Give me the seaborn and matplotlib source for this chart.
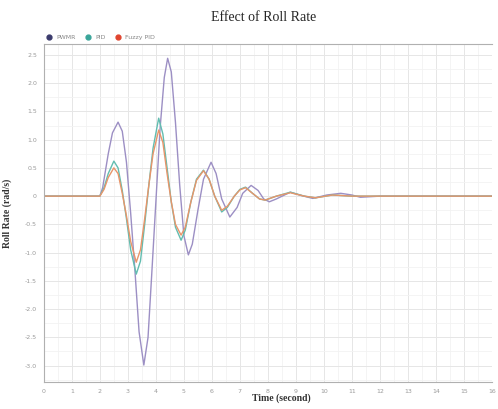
import numpy as np
import pandas as pd
import matplotlib
matplotlib.use("Agg")
import matplotlib.pyplot as plt
from matplotlib.ticker import MultipleLocator, FuncFormatter
from matplotlib.lines import Line2D
import seaborn as sns

# --- data ---
series_names = ["PWMR", "PID", "Fuzzy PID"]

t_pwmr = [0, 2.0, 2.1, 2.3, 2.45, 2.65, 2.8, 2.95, 3.1, 3.25, 3.4, 3.57, 3.72,
          3.85, 4.0, 4.15, 4.3, 4.42, 4.55, 4.7, 4.85, 5.0, 5.16, 5.3, 5.5, 5.7,
          5.97, 6.15, 6.35, 6.64, 6.9, 7.1, 7.4, 7.65, 7.85, 8.05, 8.3, 8.8, 9.2,
          9.6, 10.1, 10.6, 11.0, 11.3, 12.0, 16.0]
v_pwmr = [0, 0, 0.15, 0.75, 1.12, 1.31, 1.15, 0.6, -0.3, -1.3, -2.4, -2.99, -2.5,
          -1.4, -0.1, 1.2, 2.1, 2.44, 2.2, 1.3, 0.2, -0.7, -1.04, -0.85, -0.25, 0.3,
          0.6, 0.4, -0.05, -0.37, -0.2, 0.05, 0.19, 0.1, -0.05, -0.1, -0.05, 0.07, 0.01,
          -0.04, 0.02, 0.05, 0.02, -0.02, 0.0, 0.0]

t_pid = [0, 2.0, 2.15, 2.3, 2.5, 2.65, 2.8, 2.95, 3.1, 3.3, 3.45, 3.6, 3.75, 3.9,
         4.1, 4.25, 4.4, 4.55, 4.7, 4.9, 5.05, 5.25, 5.45, 5.7, 5.9, 6.1, 6.35,
         6.55, 6.8, 7.0, 7.2, 7.45, 7.7, 7.9, 8.3, 8.8, 9.3, 9.7, 10.3, 11.0, 16.0]
v_pid = [0, 0, 0.15, 0.4, 0.62, 0.5, 0.1, -0.4, -0.95, -1.38, -1.15, -0.5, 0.2, 0.85,
         1.38, 1.1, 0.5, -0.1, -0.55, -0.78, -0.6, -0.1, 0.3, 0.46, 0.3, 0.0, -0.28,
         -0.2, 0.0, 0.12, 0.16, 0.05, -0.05, -0.07, 0.0, 0.07, 0.0, -0.03, 0.02, 0.0, 0.0]

t_fuzzy = [0, 2.0, 2.15, 2.3, 2.5, 2.65, 2.8, 2.95, 3.1, 3.3, 3.45, 3.6, 3.75, 3.9,
           4.1, 4.25, 4.4, 4.55, 4.7, 4.9, 5.05, 5.25, 5.45, 5.7, 5.9, 6.1, 6.35,
           6.55, 6.8, 7.0, 7.2, 7.45, 7.7, 7.9, 8.3, 8.8, 9.3, 9.7, 10.3, 11.0, 16.0]
v_fuzzy = [0, 0, 0.12, 0.33, 0.5, 0.4, 0.05, -0.35, -0.8, -1.17, -0.95, -0.4, 0.2, 0.75,
           1.17, 0.95, 0.4, -0.1, -0.5, -0.69, -0.55, -0.1, 0.28, 0.45, 0.3, 0.0, -0.25,
           -0.18, 0.0, 0.11, 0.15, 0.05, -0.05, -0.07, 0.0, 0.06, 0.0, -0.03, 0.02, 0.0, 0.0]

x_ticks = list(range(0, 17))
y_ticks = [2.5, 2.0, 1.5, 1.0, 0.5, 0, -0.5, -1.0, -1.5, -2.0, -2.5, -3.0]

df = pd.concat([
    pd.DataFrame({"Time": t_pwmr, "Rate": v_pwmr, "Series": "PWMR"}),
    pd.DataFrame({"Time": t_pid, "Rate": v_pid, "Series": "PID"}),
    pd.DataFrame({"Time": t_fuzzy, "Rate": v_fuzzy, "Series": "Fuzzy PID"}),
], ignore_index=True)

line_colors = {"PWMR": "#9c8fc4", "PID": "#62bdb0", "Fuzzy PID": "#e8956a"}
marker_colors = {"PWMR": "#3b3b6d", "PID": "#3aa59a", "Fuzzy PID": "#e0452f"}

sns.set_style("white")
plt.rcParams["font.family"] = ["DejaVu Sans"]

fig = plt.figure(figsize=(4.98, 4.09), dpi=100)
ax = fig.add_axes([0.088, 0.066, 0.9, 0.826])

# grid
ax.xaxis.set_major_locator(MultipleLocator(1))
ax.xaxis.set_minor_locator(MultipleLocator(0.5))
ax.yaxis.set_major_locator(MultipleLocator(0.5))
ax.yaxis.set_minor_locator(MultipleLocator(0.25))
ax.grid(which="major", color="#e6e6e6", lw=0.7)
ax.grid(which="minor", color="#f2f2f2", lw=0.6)
ax.set_axisbelow(True)

sns.lineplot(data=df, x="Time", y="Rate", hue="Series", hue_order=series_names,
             palette=line_colors, estimator=None, sort=False, lw=1.0,
             legend=False, ax=ax)

ax.set_xlim(0, 16)
ax.set_ylim(-3.29, 2.69)
ax.set_xticks(x_ticks)
ax.set_yticks(y_ticks)
ax.yaxis.set_major_formatter(FuncFormatter(lambda v, p: "0" if abs(v) < 1e-9 else f"{v:.1f}"))
ax.tick_params(axis="both", which="major", labelsize=4.5, colors="#9a9a9a",
               length=3, width=0.6, pad=2)
ax.tick_params(axis="both", which="minor", length=0)

for side in ["left", "bottom", "top"]:
    ax.spines[side].set_color("#b0b0b0")
    ax.spines[side].set_linewidth(0.8)
ax.spines["right"].set_visible(False)

serif = ["Liberation Serif", "DejaVu Serif"]
ax.set_title("Effect of Roll Rate", fontsize=10, family=serif, pad=17, x=0.49)
ax.set_xlabel("Time (second)", fontsize=7, family=serif, fontweight="bold", color="#333333")
ax.set_ylabel("Roll Rate (rad/s)", fontsize=7, family=serif, fontweight="bold", color="#333333")
ax.xaxis.set_label_coords(0.53, -0.035)
ax.yaxis.set_label_coords(-0.072, 0.5)

handles = [Line2D([0], [0], marker="o", ls="none", color=marker_colors[n],
                  markersize=3.5) for n in series_names]
ax.legend(handles, series_names, loc="lower left", bbox_to_anchor=(-0.01, 1.0),
          ncol=3, frameon=False, fontsize=4.5, handletextpad=0.1,
          columnspacing=1.0, borderaxespad=0.2, labelcolor="#888888")

fig.savefig("out.png", dpi=100)
